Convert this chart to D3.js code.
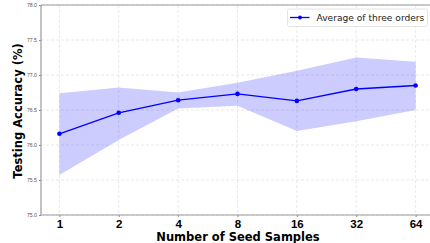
<!DOCTYPE html>
<html><head><meta charset="utf-8">
<script src="https://cdn.jsdelivr.net/npm/d3@7"></script>
<style>body{margin:0;background:#fff;}svg{display:block;font-family:"DejaVu Sans",sans-serif;}</style>
</head><body>
<svg id="c" width="430" height="243"></svg>
<script>
const categories = ["1","2","4","8","16","32","64"];
const meanValues = [76.16, 76.46, 76.64, 76.73, 76.63, 76.80, 76.85];
const upperValues = [76.74, 76.82, 76.75, 76.89, 77.06, 77.25, 77.19];
const lowerValues = [75.57, 76.07, 76.52, 76.56, 76.20, 76.34, 76.50];
const yTicks = [75.0, 75.5, 76.0, 76.5, 77.0, 77.5, 78.0];
const legendLabel = "Average of three orders";

const svg = d3.select("#c");
const L = 41, R = 434, T = 5, B = 215;
const x = d3.scalePoint().domain(categories).range([L, R]).padding(0.31);
const y = d3.scaleLinear().domain([75, 78]).range([B, T]);

// grid
const g = svg.append("g");
g.selectAll("line.gy").data(yTicks).join("line")
  .attr("x1", L).attr("x2", R).attr("y1", d => y(d)).attr("y2", d => y(d))
  .attr("stroke", "#e0e0e0").attr("stroke-width", 0.7).attr("stroke-dasharray", "3,2");
g.selectAll("line.gx").data(categories).join("line")
  .attr("x1", d => x(d)).attr("x2", d => x(d)).attr("y1", T).attr("y2", B)
  .attr("stroke", "#e0e0e0").attr("stroke-width", 0.7).attr("stroke-dasharray", "3,2");

// band
const data = categories.map((c, i) => ({c, m: meanValues[i], u: upperValues[i], l: lowerValues[i]}));
svg.append("path").datum(data)
  .attr("d", d3.area().x(d => x(d.c)).y0(d => y(d.l)).y1(d => y(d.u)))
  .attr("fill", "#0000ff").attr("fill-opacity", 0.2);

// line
svg.append("path").datum(data)
  .attr("d", d3.line().x(d => x(d.c)).y(d => y(d.m)))
  .attr("fill", "none").attr("stroke", "#0000ff").attr("stroke-width", 1.3);
svg.selectAll("circle.pt").data(data).join("circle")
  .attr("cx", d => x(d.c)).attr("cy", d => y(d.m)).attr("r", 2.3).attr("fill", "#0000ff");

// axes
const ya = svg.append("g").attr("transform", `translate(${L},0)`)
  .call(d3.axisLeft(y).tickValues(yTicks).tickFormat(d3.format(".1f")).tickSize(2).tickPadding(2));
ya.select(".domain").remove();
ya.selectAll("line").attr("stroke", "#888");
ya.selectAll("text").attr("font-size", 5.2).attr("fill", "#555");

const xa = svg.append("g").attr("transform", `translate(0,${B})`)
  .call(d3.axisBottom(x).tickSize(2).tickPadding(3));
xa.select(".domain").remove();
xa.selectAll("line").attr("stroke", "#888");
xa.selectAll("text").attr("font-size", 11.5).attr("font-weight", "bold").attr("fill", "#000");

// spines
svg.append("line").attr("x1", L).attr("x2", L).attr("y1", T).attr("y2", B).attr("stroke", "#999").attr("stroke-width", 1.2);
svg.append("line").attr("x1", L).attr("x2", R).attr("y1", B).attr("y2", B).attr("stroke", "#999").attr("stroke-width", 1.2);
svg.append("line").attr("x1", L).attr("x2", R).attr("y1", T).attr("y2", T).attr("stroke", "#999").attr("stroke-width", 1.2);

// titles
svg.append("text").attr("x", 238).attr("y", 241).attr("text-anchor", "middle")
  .attr("font-size", 11.5).attr("font-weight", "bold").text("Number of Seed Samples");
svg.append("text").attr("transform", "translate(22,111) rotate(-90)").attr("text-anchor", "middle")
  .attr("font-size", 11.5).attr("font-weight", "bold").text("Testing Accuracy (%)");

// legend
const lg = svg.append("g");
lg.append("rect").attr("x", 287.5).attr("y", 9).attr("width", 140).attr("height", 17.5).attr("rx", 2)
  .attr("fill", "#fff").attr("fill-opacity", 0.85).attr("stroke", "#ddd").attr("stroke-width", 0.8);
lg.append("line").attr("x1", 290).attr("x2", 309.5).attr("y1", 17.5).attr("y2", 17.5).attr("stroke", "#0000ff").attr("stroke-width", 1.3);
lg.append("circle").attr("cx", 300).attr("cy", 17.5).attr("r", 1.9).attr("fill", "#0000ff");
const lt = lg.append("text").attr("x", 316.5).attr("y", 21).attr("font-size", 10).attr("fill", "#222").text(legendLabel);
const w = lt.node().getComputedTextLength();
if (w > 0) lt.attr("font-size", 10 * 108 / w);
</script>
</body></html>
